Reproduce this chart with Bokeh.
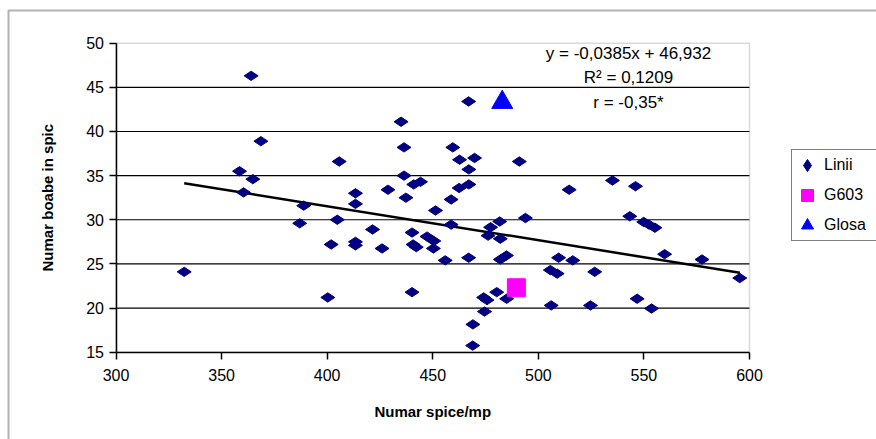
import math
from bokeh.plotting import figure
from bokeh.models import (Range1d, FixedTicker, Legend, LegendItem, Label,
                          BoxAnnotation)
from bokeh.embed import file_html
from bokeh.resources import INLINE

# ---- data ----
linii_x = [332.3, 364.0, 368.6, 358.5, 364.8, 360.4, 387.0, 388.9, 467.0, 435.0,
           436.4, 459.5, 405.7, 462.7, 469.8, 491.0, 467.1, 436.4, 444.2, 441.0,
           467.1, 462.5, 428.8, 413.4, 437.3, 458.7, 413.4, 451.3, 404.8, 493.9,
           481.7, 458.7, 477.4, 421.5, 440.2, 447.3, 450.5, 476.2, 482.0, 401.9,
           413.4, 413.4, 426.0, 440.7, 442.2, 450.3, 455.9, 467.0, 482.0, 484.9,
           400.3, 440.2, 474.1, 475.7, 480.3, 485.0, 474.5, 469.0, 468.9, 514.6,
           535.1, 546.0, 543.3, 549.9, 552.4, 555.2, 509.6, 516.3, 505.7, 508.9,
           526.7, 559.8, 577.5, 595.4, 506.1, 524.7, 546.8, 553.6]
linii_y = [24.1, 46.3, 38.9, 35.5, 34.6, 33.1, 29.6, 31.6, 43.4, 41.1,
           38.2, 38.2, 36.6, 36.8, 37.0, 36.6, 35.7, 35.0, 34.3, 34.0,
           34.0, 33.6, 33.4, 33.0, 32.5, 32.3, 31.8, 31.05, 30.0, 30.2,
           29.8, 29.45, 29.15, 28.9, 28.55, 28.1, 27.6, 28.2, 27.85, 27.2,
           27.5, 27.1, 26.75, 27.2, 26.9, 26.75, 25.4, 25.7, 25.5, 25.95,
           21.2, 21.8, 21.2, 20.9, 21.8, 21.05, 19.6, 18.15, 15.75, 33.4,
           34.45, 33.8, 30.4, 29.75, 29.45, 29.1, 25.7, 25.4, 24.3, 23.9,
           24.1, 26.1, 25.5, 23.4, 20.3, 20.3, 21.05, 19.95]
g603_x = [489.6]
g603_y = [22.3]
glosa_x = [482.9]
glosa_y = [43.3]
trend_slope = -0.0385
trend_intercept = 46.932
x_ticks = [300, 350, 400, 450, 500, 550, 600]
y_ticks = [15, 20, 25, 30, 35, 40, 45, 50]
grid_ticks = [20, 25, 30, 35, 40, 45]
series_names = ["Linii", "G603", "Glosa"]
annot_lines = ["y = -0,0385x + 46,932", "R\u00b2 = 0,1209", "r = -0,35*"]
x_title = "Numar spice/mp"
y_title = "Numar boabe in spic"
X_MIN, X_MAX, Y_MIN, Y_MAX = 300, 600, 15, 50

FONT = "Liberation Sans"
W, H = 876, 439
# pixel placement of the plot area inside the canvas
PX_L, PX_R, PX_T, PX_B = 115.5, 749.0, 42.7, 351.7
kx = (X_MAX - X_MIN) / (PX_R - PX_L)
ky = (Y_MAX - Y_MIN) / (PX_B - PX_T)
xr = Range1d(X_MIN - PX_L * kx, X_MAX + (W - PX_R) * kx)
yr = Range1d(Y_MIN - (H - PX_B) * ky, Y_MAX + PX_T * ky)

def px2x(px):
    return X_MIN + (px - PX_L) * kx

def px2y(py):
    return Y_MAX - (py - PX_T) * ky

p = figure(width=W, height=H, output_backend="svg", toolbar_location=None,
           x_range=xr, y_range=yr,
           min_border_left=0, min_border_right=0,
           min_border_top=0, min_border_bottom=0)
p.title.visible = False
p.background_fill_color = "white"
p.border_fill_color = "white"
p.outline_line_color = None
p.xgrid.visible = False
p.ygrid.visible = False

# axes drawn at fixed positions inside the canvas-sized frame
p.xaxis.fixed_location = Y_MIN
p.yaxis.fixed_location = X_MIN
p.xaxis.bounds = (X_MIN, X_MAX)
p.yaxis.bounds = (Y_MIN, Y_MAX)
for ax in (p.xaxis, p.yaxis):
    ax.axis_line_color = "black"
    ax.axis_line_width = 1.5
    ax.major_tick_line_color = "black"
    ax.major_tick_line_width = 1.5
    ax.major_tick_out = 7
    ax.major_tick_in = 0
    ax.minor_tick_line_color = None
    ax.major_label_text_font = FONT
    ax.major_label_text_font_size = "16px"
    ax.major_label_text_color = "black"
p.xaxis.ticker = FixedTicker(ticks=x_ticks)
p.yaxis.ticker = FixedTicker(ticks=y_ticks)
p.xaxis.major_label_standoff = 10
p.yaxis.major_label_standoff = 5

# horizontal grid lines across the plot area only
n = len(grid_ticks)
p.segment(x0=[X_MIN] * n, x1=[X_MAX] * n, y0=grid_ticks, y1=grid_ticks,
          line_color="black", line_width=1.2, level="underlay")

# plot-area border (grey) and outer chart-area border (black)
p.add_layout(BoxAnnotation(left=X_MIN, right=X_MAX, bottom=Y_MIN, top=Y_MAX,
                           fill_alpha=0, line_color="#808080", line_width=1.5,
                           level="underlay"))
p.add_layout(BoxAnnotation(left=8, right=W + 40, top=H - 10, bottom=-40,
                           left_units="screen", right_units="screen",
                           top_units="screen", bottom_units="screen",
                           fill_alpha=0, line_color="black", line_width=2,
                           level="underlay"))

# axis titles
p.add_layout(Label(x=(X_MIN + X_MAX) / 2, y=px2y(411), text=x_title,
                   text_align="center", text_baseline="middle", text_font=FONT,
                   text_font_size="15px", text_font_style="bold", text_color="black"))
p.add_layout(Label(x=px2x(47), y=(Y_MIN + Y_MAX) / 2, text=y_title, angle=math.pi / 2,
                   text_align="center", text_baseline="middle", text_font=FONT,
                   text_font_size="15px", text_font_style="bold", text_color="black"))

# trend line from the regression equation
tx = [min(linii_x), max(linii_x)]
ty = [trend_slope * v + trend_intercept for v in tx]
p.line(tx, ty, line_color="black", line_width=2.5)

r1 = p.scatter(linii_x, linii_y, marker="diamond", size=14, angle=math.pi / 2,
               fill_color="#000080", line_color="#000080")
r2 = p.scatter(g603_x, g603_y, marker="square", size=18,
               fill_color="#FF00FF", line_color="#FF00FF")
r3 = p.scatter(glosa_x, glosa_y, marker="triangle", size=21,
               fill_color="#0000FF", line_color="#0000FF")

# equation annotation
for txt, py in zip(annot_lines, [53, 77, 102]):
    p.add_layout(Label(x=px2x(628), y=px2y(py), text=txt, text_align="center",
                       text_baseline="middle", text_font=FONT,
                       text_font_size="17px", text_color="black"))

legend = Legend(items=[LegendItem(label=series_names[0], renderers=[r1]),
                       LegendItem(label=series_names[1], renderers=[r2]),
                       LegendItem(label=series_names[2], renderers=[r3])],
                location=(791, H - 241), orientation="vertical",
                glyph_width=30, glyph_height=30, label_standoff=2,
                label_width=53, label_height=30, spacing=0, padding=0, margin=0,
                label_text_font=FONT, label_text_font_size="16px",
                label_text_color="black",
                border_line_color="black", border_line_width=1.5,
                background_fill_color="white", background_fill_alpha=1.0)
p.add_layout(legend, "center")

open("out.html", "w").write(file_html(p, INLINE))
